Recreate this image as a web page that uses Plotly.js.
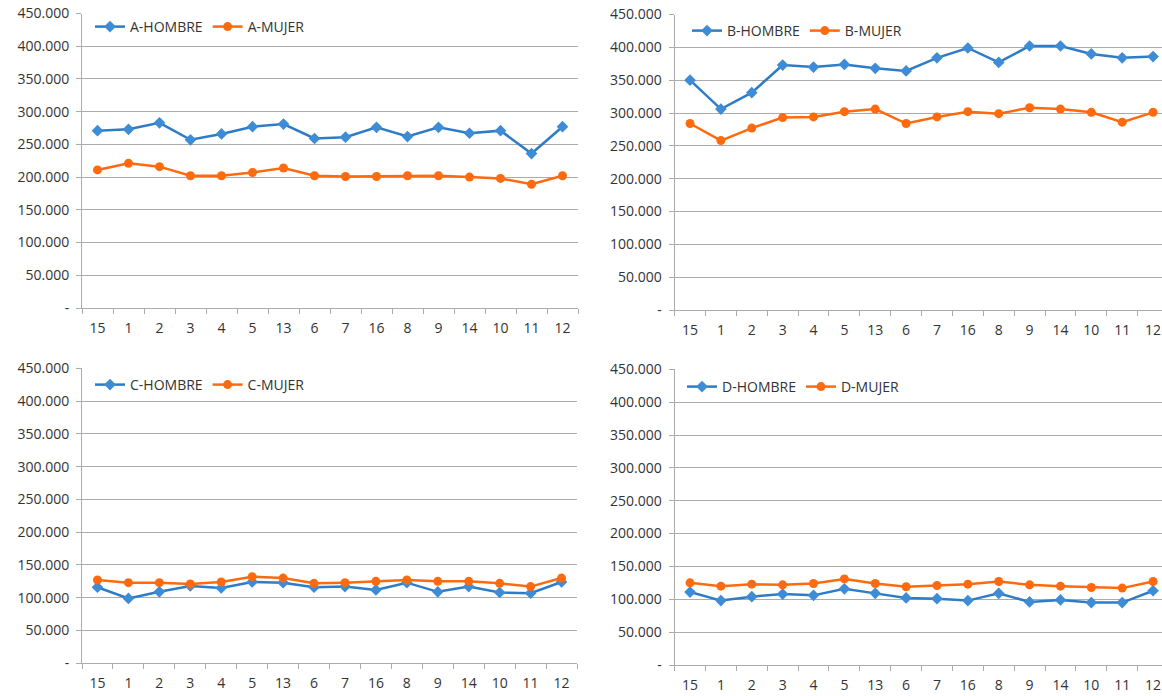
<!DOCTYPE html>
<html>
<head>
<meta charset="utf-8">
<script src="https://cdn.plot.ly/plotly-3.0.1.min.js"></script>
<style>
html,body{margin:0;padding:0;background:#fff;overflow:hidden;}
#chart{width:1170px;height:696px;}
</style>
</head>
<body>
<div id="chart"></div>
<script>
var categories = ['15','1','2','3','4','5','13','6','7','16','8','9','14','10','11','12'];

var aHombre = [271000,273000,283000,257000,266000,277000,281000,259000,261000,276000,262000,276000,267000,271000,236000,277000];
var aMujer  = [211000,221000,216000,202000,202000,207000,214000,202000,201000,201000,202000,202000,200000,198000,189000,202000];

var bHombre = [350000,306000,331000,373000,370000,374000,368000,364000,384000,399000,377000,402000,402000,390000,384000,386000];
var bMujer  = [284000,258000,277000,293000,294000,302000,306000,284000,294000,302000,299000,308000,306000,301000,286000,301000];

var cHombre = [116000,99000,109000,118000,115000,124000,123000,116000,117000,112000,123000,109000,117000,108000,107000,124000];
var cMujer  = [127000,123000,123000,121000,124000,132000,130000,122000,123000,125000,127000,125000,125000,122000,117000,130000];

var dHombre = [111000,98000,104000,108000,106000,116000,109000,102000,101000,98000,109000,96000,99000,95000,95000,113000];
var dMujer  = [125000,120000,123000,122000,124000,131000,124000,119000,121000,123000,127000,122000,120000,118000,117000,127000];

var seriesNames = [['A-HOMBRE','A-MUJER'],['B-HOMBRE','B-MUJER'],['C-HOMBRE','C-MUJER'],['D-HOMBRE','D-MUJER']];
var yTickVals = [0,50000,100000,150000,200000,250000,300000,350000,400000,450000];
var yTickText = ['-','50.000','100.000','150.000','200.000','250.000','300.000','350.000','400.000','450.000'];

var W = 1170, H = 696;
var BLUE = '#2E7BC6', BLUE_M = '#3F8CD6', ORANGE = '#FF6A0E';
var FONT = 'Open Sans, Liberation Sans, sans-serif';
var TXT = '#333333', GRID = '#ABABAB';

var data = [[aHombre,aMujer],[bHombre,bMujer],[cHombre,cMujer],[dHombre,dMujer]];
var traces = [];
data.forEach(function(pair, i){
  var ax = i === 0 ? '' : String(i+1);
  var lg = i === 0 ? 'legend' : 'legend' + (i+1);
  traces.push({
    x: categories, y: pair[0], name: seriesNames[i][0], type: 'scatter', mode: 'lines+markers',
    xaxis: 'x'+ax, yaxis: 'y'+ax, legend: lg,
    line: {color: BLUE, width: 2.5},
    marker: {symbol: 'diamond', size: 9, color: BLUE_M}
  });
  traces.push({
    x: categories, y: pair[1], name: seriesNames[i][1], type: 'scatter', mode: 'lines+markers',
    xaxis: 'x'+ax, yaxis: 'y'+ax, legend: lg,
    line: {color: ORANGE, width: 2.5},
    marker: {symbol: 'circle', size: 9, color: ORANGE}
  });
});

// pixel boxes [left, right, top, bottom]
var boxes = [[82,578,13.5,308],[674.6,1168.5,14.5,310],[82,577,368.3,663.3],[674.6,1168.5,369.3,665]];
var legendPos = [[98,27],[695,31],[98,385],[690,387]];

var layout = {
  width: W, height: H,
  margin: {l:0,r:0,t:0,b:0},
  paper_bgcolor: '#fff', plot_bgcolor: '#fff',
  font: {family: FONT, size: 14, color: TXT},
  hovermode: false
};
boxes.forEach(function(b, i){
  var s = i === 0 ? '' : String(i+1);
  layout['xaxis'+s] = {
    domain: [b[0]/W, b[1]/W], anchor: 'y'+s, type: 'category',
    range: [-0.5, 15.5], tickson: 'boundaries', ticks: 'outside', ticklen: 5,
    tickcolor: GRID, showline: true, linecolor: GRID, linewidth: 1,
    showgrid: false, zeroline: false, ticklabelstandoff: 7,
    tickfont: {family: FONT, size: 14, color: TXT}, fixedrange: true
  };
  layout['yaxis'+s] = {
    domain: [(H-b[3])/H, (H-b[2])/H], anchor: 'x'+s,
    range: [0, 450000], tickmode: 'array', tickvals: yTickVals, ticktext: yTickText,
    ticks: 'outside', ticklen: 5, tickcolor: GRID, showline: true, linecolor: GRID,
    showgrid: true, gridcolor: GRID, gridwidth: 1, zeroline: false,
    ticklabelstandoff: 4,
    tickfont: {family: FONT, size: 14, color: TXT}, fixedrange: true
  };
  var lgName = i === 0 ? 'legend' : 'legend' + (i+1);
  layout[lgName] = {
    x: (legendPos[i][0]-8)/W, xanchor: 'left',
    y: (H-legendPos[i][1])/H, yanchor: 'middle',
    orientation: 'h', bgcolor: 'rgba(0,0,0,0)',
    font: {family: FONT, size: 14, color: TXT},
    itemwidth: 30, tracegroupgap: 0
  };
});

Plotly.newPlot('chart', traces, layout, {displayModeBar: false, staticPlot: true});
</script>
</body>
</html>
